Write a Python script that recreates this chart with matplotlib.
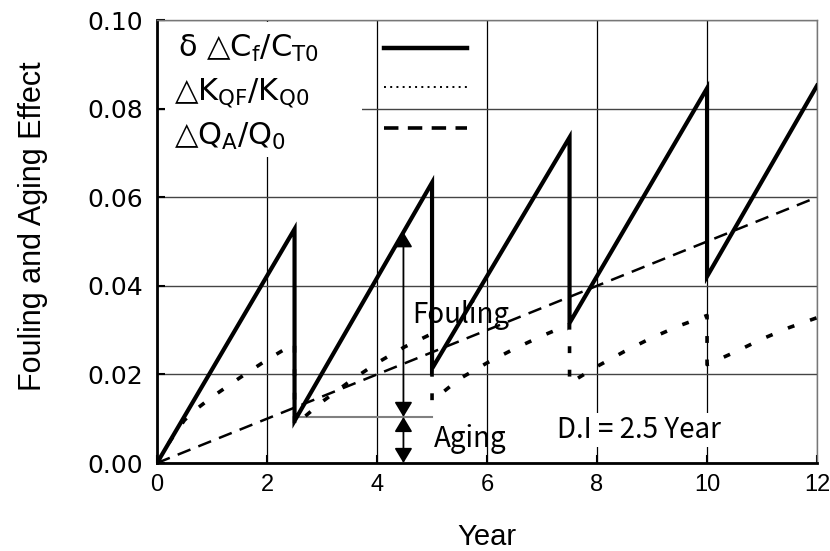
import numpy as np
import matplotlib
matplotlib.use("Agg")
import matplotlib.pyplot as plt
from matplotlib import font_manager
from matplotlib.patches import Rectangle

# fouling + aging on the total coefficient (sawtooth, cleaned every 2.5 years)
total_x = [0, 2.5, 2.5, 5.0, 5.0, 7.5, 7.5, 10.0, 10.0, 12.0]
total_y = [0, 0.0528, 0.0095, 0.0633, 0.0213, 0.0735, 0.0316, 0.0846, 0.0421, 0.0852]

# fouling on K_Q
kq_x = [0, 0.25, 0.5, 0.75, 1.0, 1.5, 2.0, 2.5,
        2.5, 3.0, 3.5, 4.0, 4.5, 5.0,
        5.0, 5.5, 6.0, 6.5, 7.0, 7.5,
        7.5, 8.0, 8.5, 9.0, 9.5, 10.0,
        10.0, 10.5, 11.0, 11.5, 12.0]
kq_y = [0, 0.0052, 0.0097, 0.0125, 0.0149, 0.0192, 0.0233, 0.0270,
        0.0085, 0.0138, 0.0184, 0.0226, 0.0262, 0.0292,
        0.0140, 0.0190, 0.0226, 0.0258, 0.0287, 0.0313,
        0.0180, 0.0218, 0.0252, 0.0283, 0.0310, 0.0333,
        0.0222, 0.0250, 0.0280, 0.0306, 0.0328]

# aging on Q
qa_x = [0, 12]
qa_y = [0, 0.060]

xticks = [0, 2, 4, 6, 8, 10, 12]
yticks = [0.00, 0.02, 0.04, 0.06, 0.08, 0.10]

labels = ["δ △C$_\\mathrm{f}$/C$_\\mathrm{T0}$",
          "△K$_\\mathrm{QF}$/K$_\\mathrm{Q0}$",
          "△Q$_\\mathrm{A}$/Q$_\\mathrm{0}$"]

plt.rcParams['mathtext.fontset'] = 'dejavusans'

# pick a condensed face for the x axis if one is around
installed = {f.name for f in font_manager.fontManager.ttflist}
narrow = 'Liberation Sans'
narrow_size = 17
for name in ['Liberation Sans Narrow', 'DejaVu Sans Condensed']:
    if name in installed:
        narrow = name
        narrow_size = 20
        break
jp = ['Noto Sans CJK JP', 'DejaVu Sans']

fig = plt.figure(figsize=(8.3, 5.51), dpi=100)
ax = fig.add_axes([0.1892, 0.1597, 0.7952, 0.804])
ax.set_xlim(0, 12)
ax.set_ylim(0, 0.1)

# grid
ax.set_axisbelow(True)
ax.xaxis.grid(True, color='black', lw=0.9)
ax.yaxis.grid(True, color='#444444', lw=1.0)

# blank area behind the legend text
ax.add_patch(Rectangle((0.15, 0.069), 3.57, 0.0305, facecolor='white',
                       edgecolor='none', zorder=1))

solid_ls = dict(color='black', lw=3.0, solid_joinstyle='miter')
dot_ls = dict(color='black', lw=2.6, dashes=(1.9, 4.6), dash_capstyle='butt')
dash_ls = dict(color='black', lw=1.8, dashes=(5.5, 3.4))

ax.plot(total_x, total_y, zorder=4, **solid_ls)
ax.plot(kq_x, kq_y, zorder=3, **dot_ls)
ax.plot(qa_x, qa_y, zorder=3, **dash_ls)

# legend drawn by hand
ax.plot([4.13, 5.64], [0.0937, 0.0937], color='black', lw=3.2, zorder=3)
ax.plot([4.13, 5.64], [0.0849, 0.0849], color='black', lw=1.4,
        dashes=(1, 2.2), zorder=3)
ax.plot([4.13, 5.64], [0.0757, 0.0757], color='black', lw=2.6,
        dashes=(4.0, 2.6), zorder=3)
ax.text(0.38, 0.0916, labels[0], fontsize=22, family='DejaVu Sans',
        va='baseline', zorder=5)
ax.text(0.31, 0.0819, labels[1], fontsize=22, family='DejaVu Sans',
        va='baseline', zorder=5)
ax.text(0.31, 0.0718, labels[2], fontsize=22, family='DejaVu Sans',
        va='baseline', zorder=5)

# aging / fouling arrows
ax.plot([2.55, 5.0], [0.0104, 0.0104], color='#808080', lw=1.5, zorder=2)
arrow = dict(arrowstyle='<|-|>,head_length=0.5,head_width=0.3', color='black',
             lw=1.3, mutation_scale=18, shrinkA=0, shrinkB=0)
ax.annotate('', xy=(4.48, 0.0521), xytext=(4.48, 0.0104), arrowprops=arrow,
            zorder=5)
ax.annotate('', xy=(4.48, 0.0), xytext=(4.48, 0.0104), arrowprops=arrow,
            zorder=5)

ax.text(4.64, 0.0316, 'Fouling', fontsize=20, family=jp, va='baseline',
        zorder=2)
ax.text(5.04, 0.0036, 'Aging', fontsize=20, family=jp, va='baseline', zorder=2)
ax.text(7.27, 0.0056, 'D.I = 2.5 Year', fontsize=20, family=jp,
        va='baseline', zorder=2,
        bbox=dict(facecolor='white', edgecolor='none', pad=1.5))

# axes styling
ax.set_xticks(xticks)
ax.set_yticks(yticks)
ax.set_xticklabels([str(v) for v in xticks], family=narrow, fontsize=narrow_size)
ax.set_yticklabels(['%.2f' % v for v in yticks], family='DejaVu Sans',
                   fontsize=18)
ax.tick_params(axis='both', direction='in', length=6, width=1.5, color='black')
ax.tick_params(axis='x', pad=8)
ax.tick_params(axis='y', pad=10)

for side in ['left', 'bottom']:
    ax.spines[side].set_linewidth(2.0)
    ax.spines[side].set_color('black')
for side in ['top', 'right']:
    ax.spines[side].set_linewidth(1.0)
    ax.spines[side].set_color('#777777')

ax.set_xlabel('Year', family=narrow, fontsize=narrow_size + 4)
ax.xaxis.set_label_coords(0.5, -0.135)
ax.set_ylabel('Fouling and Aging Effect', family='Liberation Sans', fontsize=22)
ax.yaxis.set_label_coords(-0.165, 0.535)

fig.savefig('out.png', dpi=100)
